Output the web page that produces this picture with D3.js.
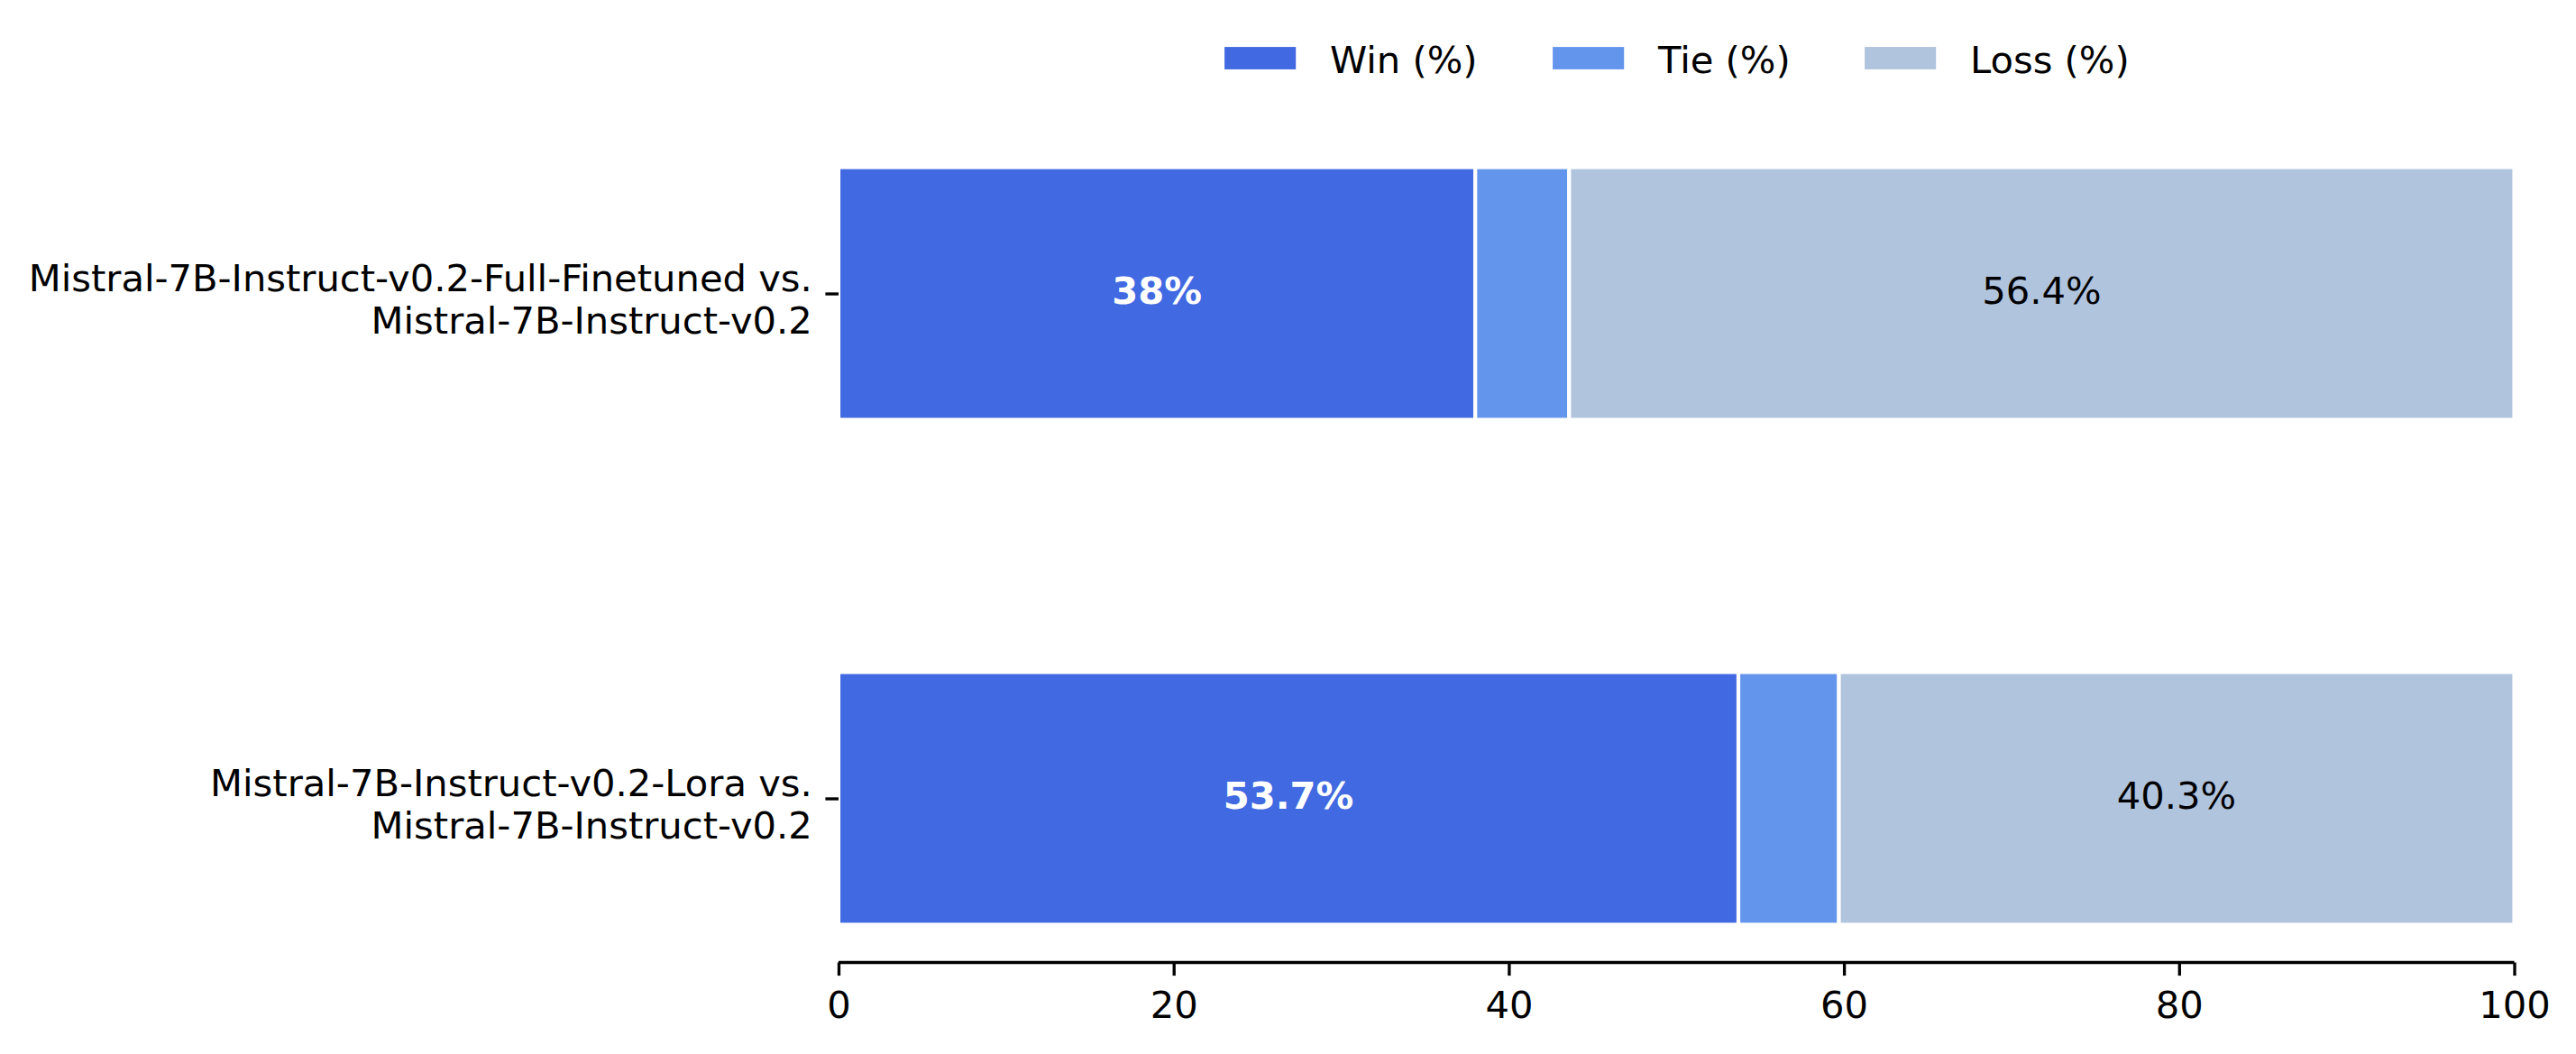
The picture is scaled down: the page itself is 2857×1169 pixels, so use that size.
<!DOCTYPE html>
<html>
<head>
<meta charset="utf-8">
<script src="https://cdn.jsdelivr.net/npm/d3@7"></script>
<style>
  html, body { margin: 0; padding: 0; background: #fff; }
  svg { display: block; }
  text { font-family: "DejaVu Sans", sans-serif; }
</style>
</head>
<body>
<svg id="chart" width="2857" height="1169"></svg>
<script>
// ---- data ----
const categories = [
  "Mistral-7B-Instruct-v0.2-Lora vs.\nMistral-7B-Instruct-v0.2",
  "Mistral-7B-Instruct-v0.2-Full-Finetuned vs.\nMistral-7B-Instruct-v0.2"
];
const winValues = [53.7, 38.0];
const tieValues = [6.0, 5.6];
const lossValues = [40.3, 56.4];
const seriesNames = ["Win (%)", "Tie (%)", "Loss (%)"];
const seriesColors = ["#4169E1", "#6495ED", "#B0C4DE"];
const xTicks = [0, 20, 40, 60, 80, 100];

// ---- layout ----
const W = 2857, H = 1169;
const FS = 41.67;
const svg = d3.select("#chart");

const x = d3.scaleLinear().domain([0, 100]).range([930, 2788.5]);
const y = d3.scaleLinear().domain([-0.325, 1.325]).range([1067.5, 143.5]);
const barH = 0.5;

const rows = categories.map((c, i) => ({ cat: c, i, vals: [winValues[i], tieValues[i], lossValues[i]] }));

// stacked segments
const segs = [];
rows.forEach(r => {
  let acc = 0;
  r.vals.forEach((v, s) => {
    segs.push({ i: r.i, s, x0: acc, x1: acc + v, v });
    acc += v;
  });
});

svg.append("g").selectAll("rect").data(segs).enter().append("rect")
  .attr("x", d => x(d.x0))
  .attr("width", d => x(d.x1) - x(d.x0))
  .attr("y", d => y(d.i + barH / 2))
  .attr("height", d => y(d.i - barH / 2) - y(d.i + barH / 2))
  .attr("fill", d => seriesColors[d.s])
  .attr("stroke", "#fff")
  .attr("stroke-width", 4.17);

// bar labels (win and loss)
svg.append("g").selectAll("text").data(segs.filter(d => d.s !== 1)).enter().append("text")
  .attr("x", d => (x(d.x0) + x(d.x1)) / 2)
  .attr("y", d => y(d.i) + 11)
  .attr("text-anchor", "middle")
  .attr("font-size", FS)
  .attr("font-weight", d => d.s === 0 ? "bold" : "normal")
  .attr("fill", d => d.s === 0 ? "#fff" : "#000")
  .text(d => `${+d.v.toFixed(1)}%`);

// x axis
const xAxis = d3.axisBottom(x).tickValues(xTicks).tickSize(14.6).tickPadding(14.6).tickFormat(d3.format("d"));
const gx = svg.append("g").attr("transform", `translate(0,${y(-0.325)})`).call(xAxis);
gx.select(".domain").attr("stroke", "#000").attr("stroke-width", 3.33)
  .attr("d", `M${x(0)},0H${x(100)}`);
gx.selectAll(".tick line").attr("stroke", "#000").attr("stroke-width", 3.33);
gx.selectAll(".tick text").attr("font-size", FS).attr("font-family", "DejaVu Sans").attr("fill", "#000")
  .attr("dy", null).attr("y", 14.6 + 14.6 + 32);

// y axis (ticks only, no spine)
const yAxis = d3.axisLeft(y).tickValues(rows.map(r => r.i)).tickSize(14.6).tickPadding(14.6).tickFormat("");
const gy = svg.append("g").attr("transform", `translate(${x(0)},0)`).call(yAxis);
gy.select(".domain").remove();
gy.selectAll(".tick line").attr("stroke", "#000").attr("stroke-width", 3.33);

// y tick labels (two lines, right aligned)
const ylab = svg.append("g").selectAll("text").data(rows).enter().append("text")
  .attr("text-anchor", "end")
  .attr("font-size", FS)
  .attr("fill", "#000");
ylab.each(function (d) {
  const lines = d.cat.split("\n");
  const t = d3.select(this);
  lines.forEach((ln, k) => {
    t.append("tspan")
      .attr("x", x(0) - 14.6 - 14.6)
      .attr("y", y(d.i) - 2.5 + k * 46.7)
      .text(ln);
  });
});

// legend
const legendX = [1356, 1720, 2066];
const lg = svg.append("g").selectAll("g").data(seriesNames).enter().append("g");
lg.append("rect")
  .attr("x", (d, k) => legendX[k])
  .attr("y", 50)
  .attr("width", 83.3)
  .attr("height", 29)
  .attr("fill", (d, k) => seriesColors[k])
  .attr("stroke", "#fff")
  .attr("stroke-width", 4.17);
lg.append("text")
  .attr("x", (d, k) => legendX[k] + 119)
  .attr("y", 80.7)
  .attr("font-size", FS)
  .attr("fill", "#000")
  .text(d => d);
</script>
</body>
</html>
